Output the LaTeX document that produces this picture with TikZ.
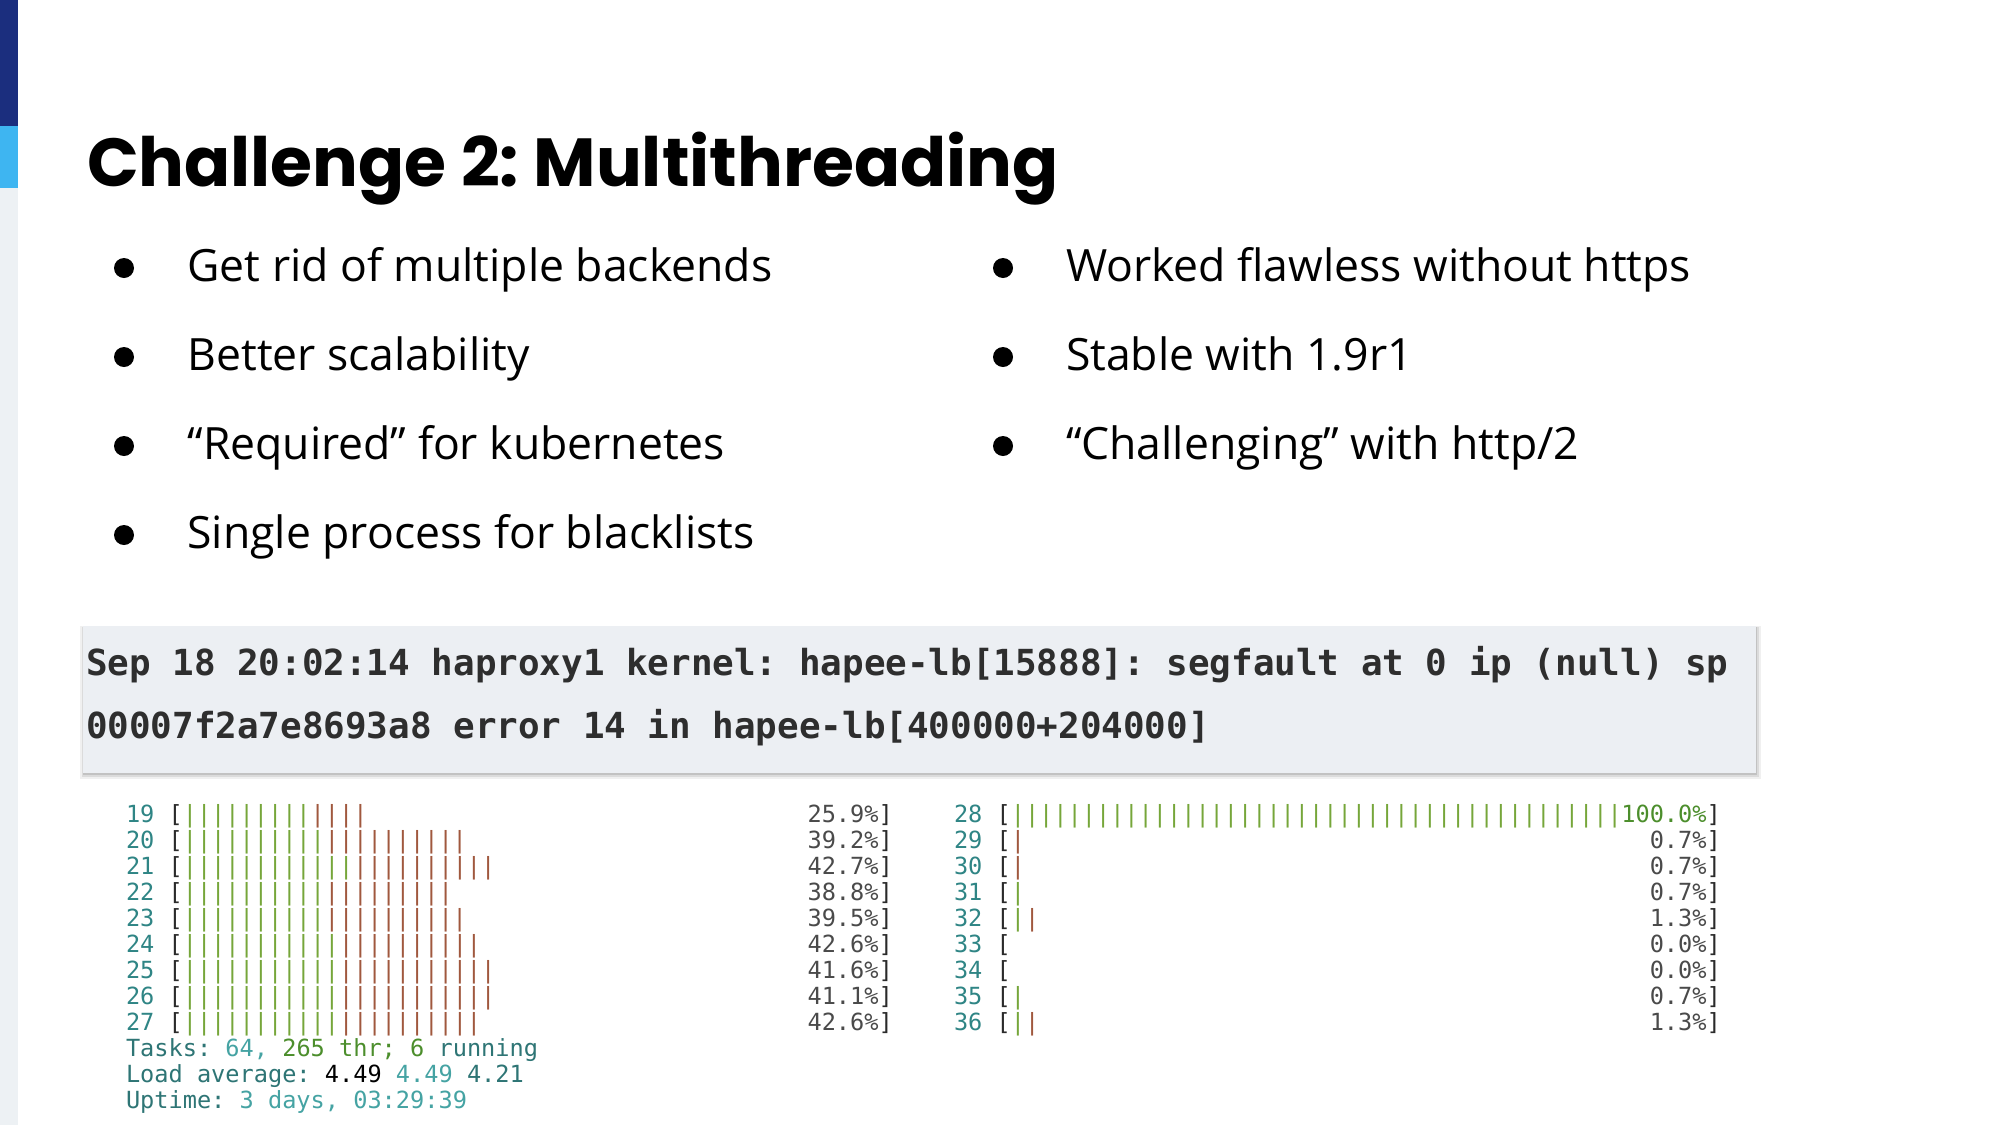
\documentclass[tikz,border=0pt]{standalone}
\usepackage{fontspec}
\setmainfont{Open Sans}
\newfontfamily\titlefont{Poppins}
\newfontfamily\codefont{DejaVu Sans Mono}
\newfontfamily\htopfont{DejaVu Sans Mono}
\definecolor{navy}{HTML}{1B2E7E}
\definecolor{skyb}{HTML}{3EB5F1}
\definecolor{stripe}{HTML}{EDF1F4}
\definecolor{codebg}{HTML}{ECEFF3}
\definecolor{codetxt}{HTML}{2E2E2E}
\definecolor{hnum}{HTML}{2F8585}
\definecolor{hlabel}{HTML}{2E7575}
\definecolor{hval}{HTML}{45A3A3}
\definecolor{hgreen}{HTML}{76A63A}
\definecolor{hgreentwo}{HTML}{4C8E2C}
\definecolor{hbrown}{HTML}{A0583E}
\definecolor{hpct}{HTML}{4A4A4A}
\definecolor{hbrk}{HTML}{2A2A2A}
\ExplSyntaxOn
\cs_new:Npn \reppipe #1 { \prg_replicate:nn {#1} {|} }
\ExplSyntaxOff
% #1 name, #2 x0, #3 baseline, #4 cpu number, #5 green bars, #6 brown bars, #7 percentage
\newcommand\htoprow[7]{%
  \node[htxt] (#1n) at (#2,#3) {\color{hnum}#4 \color{hbrk}[};
  \node[htxt] (#1b) at ({#2+4*14.2},#3) {\color{hgreen}\reppipe{#5}\color{hbrown}\reppipe{#6}};
  \node[htxt,anchor=base east] (#1p) at ({#2+54*14.2},#3) {\color{hpct}#7\%\color{hbrk}]};
}
\begin{document}
\frenchspacing
\begin{tikzpicture}[x=1pt,y=-1pt,
  txt/.style={inner sep=0pt,outer sep=0pt,anchor=base west},
  bul/.style={circle,fill=black,minimum size=20pt,inner sep=0pt,outer sep=0pt},
  item/.style={txt,font=\fontsize{44.5}{50}\selectfont,text=black},
  codeline/.style={txt,font=\codefont\bfseries\fontsize{35.9}{40}\selectfont,text=codetxt},
  htxt/.style={txt,font=\htopfont\fontsize{23.6}{26}\selectfont}]
\useasboundingbox[fill=white] (0,0) rectangle (2000,1125);
% left accent stripe
\fill[navy] (0,0) rectangle (18,126);
\fill[skyb] (0,126) rectangle (18,188);
\fill[stripe] (0,188) rectangle (18,1125);
% title
\node[txt,font=\titlefont\bfseries\fontsize{68}{80}\selectfont] (title) at (87,186) {Challenge 2: Multithreading};
% left bullets
\node[bul] (bl1) at (124,268) {};
\node[item] (tl1) at (187.5,281) {Get rid of multiple backends};
\node[bul] (bl2) at (124,357) {};
\node[item] (tl2) at (187.5,370) {Better scalability};
\node[bul] (bl3) at (124,446) {};
\node[item] (tl3) at (187.5,459) {“Required” for kubernetes};
\node[bul] (bl4) at (124,535) {};
\node[item] (tl4) at (187.5,548) {Single process for blacklists};
% right bullets
\node[bul] (br1) at (1003,268) {};
\node[item] (tr1) at (1066,281) {Worked flawless without https};
\node[bul] (br2) at (1003,357) {};
\node[item] (tr2) at (1066,370) {Stable with 1.9r1};
\node[bul] (br3) at (1003,446) {};
\node[item] (tr3) at (1066,459) {“Challenging” with http/2};
% code box with shadow
\fill[black!6] (80,626) rectangle (1761,779);
\fill[black!14] (82,627) rectangle (1759,777);
\fill[black!24] (83,627) rectangle (1757,775);
\fill[codebg] (83,626) rectangle (1756,773);
\node[codeline] (code1) at (86,675) {Sep 18 20:02:14 haproxy1 kernel: hapee-lb[15888]: segfault at 0 ip (null) sp};
\node[codeline] (code2) at (86,738) {00007f2a7e8693a8 error 14 in hapee-lb[400000+204000]};
% htop left column
\htoprow{ra}{126}{822}{19}{9}{4}{25.9}
\htoprow{rb}{126}{848}{20}{10}{10}{39.2}
\htoprow{rc}{126}{874}{21}{12}{10}{42.7}
\htoprow{rd}{126}{900}{22}{10}{9}{38.8}
\htoprow{re}{126}{926}{23}{10}{10}{39.5}
\htoprow{rf}{126}{952}{24}{11}{10}{42.6}
\htoprow{rg}{126}{978}{25}{11}{11}{41.6}
\htoprow{rh}{126}{1004}{26}{11}{11}{41.1}
\htoprow{ri}{126}{1030}{27}{11}{10}{42.6}
% htop right column
\htoprow{sa}{954}{822}{28}{43}{0}{\color{hgreentwo}100.0}
\htoprow{sb}{954}{848}{29}{0}{1}{0.7}
\htoprow{sc}{954}{874}{30}{0}{1}{0.7}
\htoprow{sd}{954}{900}{31}{1}{0}{0.7}
\htoprow{se}{954}{926}{32}{1}{1}{1.3}
\htoprow{sf}{954}{952}{33}{0}{0}{0.0}
\htoprow{sg}{954}{978}{34}{0}{0}{0.0}
\htoprow{sh}{954}{1004}{35}{1}{0}{0.7}
\htoprow{si}{954}{1030}{36}{1}{1}{1.3}
% htop summary
\node[htxt] (tasks) at (126,1056) {\color{hlabel}Tasks: \color{hval}64, \color{hgreentwo}265 thr; 6 \color{hlabel}running};
\node[htxt] (load) at (126,1082) {\color{hlabel}Load average: \color{black}4.49 \color{hval}4.49 \color{hlabel}4.21};
\node[htxt] (uptime) at (126,1108) {\color{hlabel}Uptime: \color{hval}3 days, 03:29:39};
\end{tikzpicture}
\end{document}
